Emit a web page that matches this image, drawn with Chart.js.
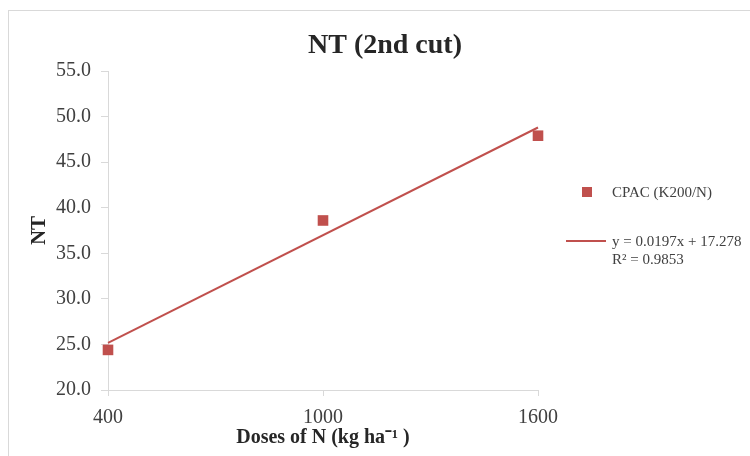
<!DOCTYPE html>
<html>
<head>
<meta charset="utf-8">
<script src="https://cdn.jsdelivr.net/npm/chart.js@4.4.1/dist/chart.umd.min.js"></script>
<style>
  html, body { margin: 0; padding: 0; background: #ffffff; }
  #wrap { width: 750px; height: 456px; position: relative; }
</style>
</head>
<body>
<div id="wrap"><canvas id="c" width="750" height="456"></canvas></div>
<script>
// ---- data ----
const doses = [400, 1000, 1600];
const ntValues = [24.4, 38.6, 47.9];
const trendX = [400, 1600];
const trendY = [25.16, 48.80];
const seriesLabel = 'CPAC (K200/N)';
const trendLabel = ['y = 0.0197x + 17.278', 'R\u00B2 = 0.9853'];
const chartTitle = 'NT (2nd cut)';
const xTitle = 'Doses of N (kg ha\u207B\u00B9 )';
const yTitle = 'NT';

const RED = '#c0504d';
const AXIS = '#d9d9d9';
const TXT = '#404040';
const SERIF = '"Liberation Serif", "Times New Roman", serif';

const framePlugin = {
  id: 'frame',
  beforeDraw(chart) {
    const ctx = chart.ctx;
    ctx.save();
    ctx.fillStyle = '#ffffff';
    ctx.fillRect(0, 0, chart.width, chart.height);
    ctx.strokeStyle = AXIS;
    ctx.lineWidth = 1;
    ctx.strokeRect(8.5, 10.5, 800, 500);
    ctx.restore();
  }
};

const titleLegendPlugin = {
  id: 'titleLegend',
  afterDraw(chart) {
    const ctx = chart.ctx;
    ctx.save();
    // title
    ctx.fillStyle = '#262626';
    ctx.font = 'bold 28px ' + SERIF;
    ctx.textAlign = 'center';
    ctx.textBaseline = 'middle';
    ctx.fillText(chartTitle, 385, 46);
    // legend
    const ds = chart.data.datasets;
    ctx.font = '15px ' + SERIF;
    ctx.textAlign = 'left';
    ctx.fillStyle = ds[0].backgroundColor;
    ctx.fillRect(582, 187, 10, 10);
    ctx.fillStyle = TXT;
    ctx.fillText(ds[0].label, 612, 193);
    ctx.strokeStyle = ds[1].borderColor;
    ctx.lineWidth = 2;
    ctx.beginPath();
    ctx.moveTo(566, 241);
    ctx.lineTo(606, 241);
    ctx.stroke();
    const lines = ds[1].label;
    ctx.fillStyle = TXT;
    lines.forEach((t, i) => ctx.fillText(t, 612, 242 + i * 18));
    ctx.restore();
  }
};

new Chart(document.getElementById('c'), {
  data: {
    datasets: [
      {
        type: 'scatter',
        label: seriesLabel,
        data: doses.map((d, i) => ({ x: d, y: ntValues[i] })),
        backgroundColor: RED,
        borderColor: RED,
        pointStyle: 'rect',
        pointRadius: 7.5,
        pointBorderWidth: 0,
        clip: false,
        order: 1
      },
      {
        type: 'line',
        label: trendLabel,
        data: trendX.map((d, i) => ({ x: d, y: trendY[i] })),
        borderColor: RED,
        borderWidth: 2,
        pointRadius: 0,
        fill: false,
        clip: false,
        order: 2
      }
    ]
  },
  options: {
    responsive: false,
    animation: false,
    devicePixelRatio: 1,
    layout: { padding: { top: 71, right: 212, bottom: 0, left: 0 } },
    plugins: {
      legend: { display: false },
      title: { display: false },
      tooltip: { enabled: false }
    },
    scales: {
      x: {
        type: 'linear',
        min: 400,
        max: 1600,
        afterBuildTicks(scale) { scale.ticks = doses.map(v => ({ value: v })); },
        afterFit(scale) { scale.height = 66; },
        grid: { drawOnChartArea: false, drawTicks: true, tickLength: 6, color: AXIS },
        border: { color: AXIS, width: 1 },
        ticks: { color: TXT, font: { family: SERIF, size: 20 }, padding: 10, maxRotation: 0, callback: v => String(v) },
        title: { display: true, text: xTitle, color: '#262626', font: { family: SERIF, size: 20, weight: 'bold' }, padding: { top: 0, bottom: 6 } }
      },
      y: {
        type: 'linear',
        min: 20,
        max: 55,
        afterFit(scale) { scale.width = 108; },
        grid: { drawOnChartArea: false, drawTicks: true, tickLength: 7, color: AXIS },
        border: { color: AXIS, width: 1 },
        ticks: { stepSize: 5, color: TXT, font: { family: SERIF, size: 20 }, padding: 10, callback: v => Number(v).toFixed(1) },
        title: { display: true, text: yTitle, color: '#262626', font: { family: SERIF, size: 21, weight: 'bold' }, padding: { top: 27, bottom: 0 } }
      }
    }
  },
  plugins: [framePlugin, titleLegendPlugin]
});
</script>
</body>
</html>
